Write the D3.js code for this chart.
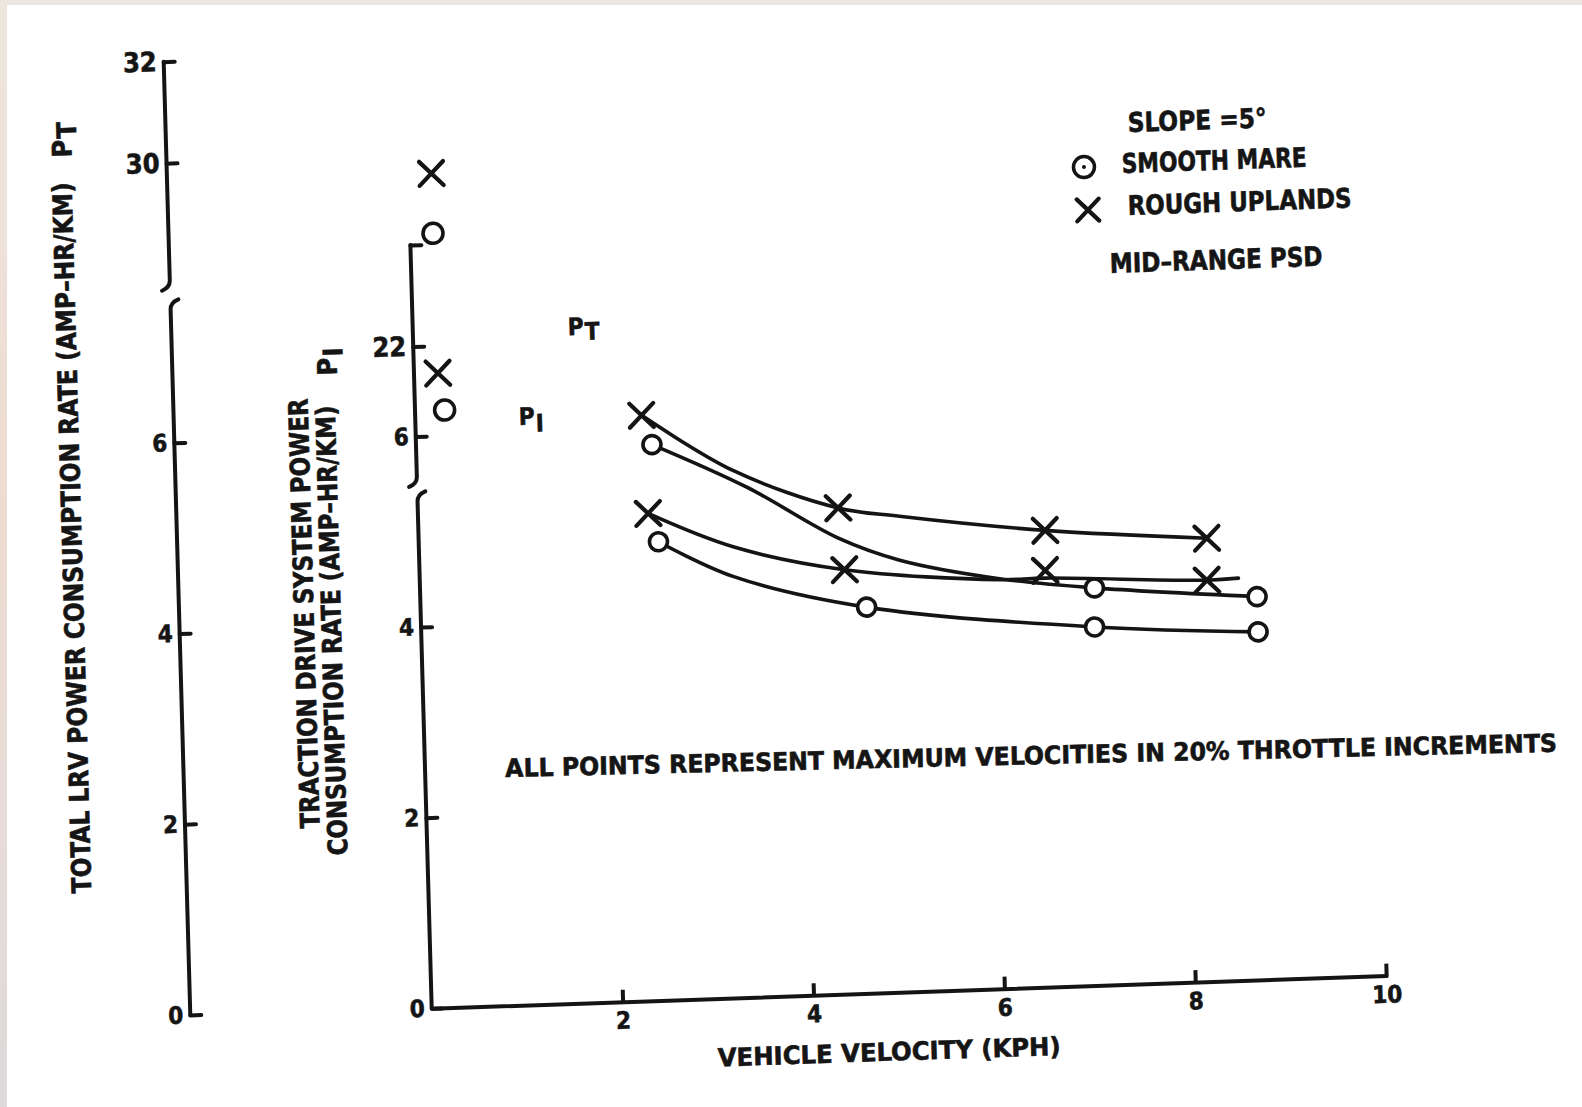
<!DOCTYPE html>
<html>
<head>
<meta charset="utf-8">
<title>LRV power consumption vs. vehicle velocity</title>
<script src="https://cdn.jsdelivr.net/npm/d3@7/dist/d3.min.js"></script>
<style>
  html, body { margin: 0; padding: 0; background: #ffffff; }
  svg { display: block; }
  .lbl { font-family: "Liberation Sans Narrow", "DejaVu Sans Condensed", "Roboto", sans-serif; font-weight: 700; fill: #151515; stroke: #151515; stroke-width: 0.6px; }
</style>
</head>
<body>
<svg id="chart" width="1582" height="1107"></svg>
<script>
// ---- tick values ----
const velocityTicks = [2, 4, 6, 8, 10];
const lowerRateTicks = [0, 2, 4, 6];
const totalUpperTicks = [30, 32];
const totalUpperLabels = ["30", "32"];
const tractionUpperTicks = [22, 24];
const tractionUpperLabels = ["22", ""];

// ---- measured points: velocity (KPH) vs consumption (AMP-HR/KM), slope 5 deg ----
// total LRV rate, P_T
const totalRoughV  = [2.37, 4.40, 6.56, 8.25];
const totalRoughP  = [6.12, 5.08, 4.77, 4.63];
const totalSmoothV = [2.47, 7.06, 8.76];
const totalSmoothP = [5.81, 4.15, 4.00];
// traction drive system rate, P_I
const tractionRoughV  = [2.41, 4.45, 6.55, 8.24];
const tractionRoughP  = [5.11, 4.45, 4.37, 4.21];
const tractionSmoothV = [2.51, 4.67, 7.05, 8.76];
const tractionSmoothP = [4.81, 4.05, 3.76, 3.65];

// ---- faired curves drawn through the points ----
const totalRoughCurveV = [2.37, 3.31, 4.40, 5.04, 6.56, 8.25];
const totalRoughCurveP = [6.12, 5.51, 5.08, 4.97, 4.77, 4.63];
const totalSmoothCurveV = [2.47, 3.45, 4.40, 5.03, 6.07, 7.06, 8.76];
const totalSmoothCurveP = [5.81, 5.33, 4.76, 4.51, 4.28, 4.15, 4.00];
const tractionRoughCurveV = [2.41, 3.29, 4.45, 6.07, 6.55, 8.24, 8.57];
const tractionRoughCurveP = [5.11, 4.73, 4.45, 4.29, 4.29, 4.21, 4.22];
const tractionSmoothCurveV = [2.51, 3.28, 4.67, 7.05, 8.76];
const tractionSmoothCurveP = [4.81, 4.42, 4.05, 3.76, 3.65];

// ---- points read on the upper (broken) part of each axis: rough, smooth ----
const totalStartV = [0.24, 0.24];
const totalStartP = [29.62, 28.44];
const tractionStartV = [0.25, 0.31];
const tractionStartP = [21.46, 20.73];

const ink = "#141414";
const svg = d3.select("#chart");

// paper edge of the sheet
const defs = svg.append("defs");
const edge = defs.append("linearGradient").attr("id", "paperEdge")
  .attr("x1", 0).attr("y1", 0).attr("x2", 0).attr("y2", 1);
[[0, "#ece6df"], [0.45, "#eedcd2"], [0.75, "#e6dcd8"], [1, "#dcdadb"]]
  .forEach(([o, c]) => edge.append("stop").attr("offset", o).attr("stop-color", c));
svg.append("rect").attr("width", 1582).attr("height", 1107).attr("fill", "#ffffff");
svg.append("rect").attr("width", 1582).attr("height", 5).attr("fill", "#ebe6df");
svg.append("rect").attr("width", 7).attr("height", 1107).attr("fill", "url(#paperEdge)");

// whole drawing sits slightly askew on the sheet
const plot = svg.append("g")
  .attr("transform", "matrix(0.99941,-0.0342,0.0279,0.9996,431.7,1008.3)");

// ---- scales ----
const x = d3.scaleLinear().domain([0, 10]).range([0, 955]);
const yTotal = d3.scaleLinear().domain([0, 6]).range([-1.6, -574]);
const yTotalUpper = d3.scaleLinear().domain([30, 32]).range([-853.7, -955.2]);
const yTraction = d3.scaleLinear().domain([0, 6]).range([0, -572]);
const yTractionUpper = d3.scaleLinear().domain([22, 24]).range([-662, -763.6]);

const totalAxisX = -241.5;
// where each axis is broken
const totalLowerTop = 7.47, totalUpperBottom = 27.55;
const tractionLowerTop = 5.39, tractionUpperBottom = 19.3;

function brokenAxis(ax, bottomPx, lowTopPx, upBottomPx, topPx) {
  const g = plot.append("g").attr("fill", "none").attr("stroke", ink)
    .attr("stroke-width", 4).attr("stroke-linecap", "round");
  g.append("path").attr("d",
    `M${ax},${bottomPx} V${lowTopPx + 7} Q${ax},${lowTopPx} ${ax + 8},${lowTopPx - 3}`);
  g.append("path").attr("d",
    `M${ax},${topPx} V${upBottomPx - 7} Q${ax},${upBottomPx} ${ax - 8},${upBottomPx + 3}`);
}

brokenAxis(totalAxisX, yTotal(0), yTotal(totalLowerTop), yTotalUpper(totalUpperBottom), yTotalUpper(32));
brokenAxis(0, yTraction(0), yTraction(tractionLowerTop), yTractionUpper(tractionUpperBottom), yTractionUpper(24));

const intFormat = d3.format("d");

function rateTicks(scale, ticks, labels, ax, size) {
  const axis = d3.axisLeft(scale).tickValues(ticks)
    .tickSizeInner(-11).tickSizeOuter(0).tickPadding(7)
    .tickFormat(labels ? (d, i) => labels[i] : intFormat);
  const g = plot.append("g").attr("transform", `translate(${ax},0)`).call(axis);
  g.select(".domain").remove();
  g.selectAll(".tick line").attr("stroke", ink).attr("stroke-width", 4).attr("stroke-linecap", "round");
  g.selectAll(".tick text").attr("class", "lbl").attr("font-size", size).attr("fill", ink);
}

rateTicks(yTotal, lowerRateTicks, null, totalAxisX, 24);
rateTicks(yTotalUpper, totalUpperTicks, totalUpperLabels, totalAxisX, 27);
rateTicks(yTraction, lowerRateTicks, null, 0, 24);
rateTicks(yTractionUpper, tractionUpperTicks, tractionUpperLabels, 0, 27);

// velocity axis
const xAxis = d3.axisBottom(x).tickValues(velocityTicks).tickFormat(intFormat)
  .tickSizeInner(-12).tickSizeOuter(0).tickPadding(10);
const gx = plot.append("g").call(xAxis);
gx.select(".domain").attr("stroke", ink).attr("stroke-width", 4).attr("stroke-linecap", "round");
gx.selectAll(".tick line").attr("stroke", ink).attr("stroke-width", 4);
gx.selectAll(".tick text").attr("class", "lbl").attr("font-size", 24).attr("fill", ink);

// ---- series ----
const crossPath = s => `M${-s},${-s}L${s},${s}M${-s},${s}L${s},${-s}`;

function drawMarks(g, pts, yScale, symbol, size) {
  if (symbol === "cross") {
    g.selectAll("path.mk").data(pts).join("path").attr("class", "mk")
      .attr("transform", d => `translate(${x(d[0])},${yScale(d[1])})`)
      .attr("d", crossPath(size)).attr("fill", "none")
      .attr("stroke", ink).attr("stroke-width", 4.2).attr("stroke-linecap", "round");
  } else {
    g.selectAll("circle.mk").data(pts).join("circle").attr("class", "mk")
      .attr("cx", d => x(d[0])).attr("cy", d => yScale(d[1])).attr("r", size)
      .attr("fill", "#ffffff").attr("stroke", ink).attr("stroke-width", 3.6);
  }
}

const series = [
  { v: totalSmoothV, p: totalSmoothP, cv: totalSmoothCurveV, cp: totalSmoothCurveP, y: yTotal, symbol: "circle" },
  { v: tractionSmoothV, p: tractionSmoothP, cv: tractionSmoothCurveV, cp: tractionSmoothCurveP, y: yTraction, symbol: "circle" },
  { v: totalRoughV, p: totalRoughP, cv: totalRoughCurveV, cp: totalRoughCurveP, y: yTotal, symbol: "cross" },
  { v: tractionRoughV, p: tractionRoughP, cv: tractionRoughCurveV, cp: tractionRoughCurveP, y: yTraction, symbol: "cross" }
];

series.forEach(s => {
  const g = plot.append("g");
  const line = d3.line().x(d => x(d[0])).y(d => s.y(d[1])).curve(d3.curveCatmullRom.alpha(0.5));
  g.append("path").datum(d3.zip(s.cv, s.cp)).attr("d", line)
    .attr("fill", "none").attr("stroke", ink).attr("stroke-width", 3.6).attr("stroke-linecap", "round");
  drawMarks(g, d3.zip(s.v, s.p), s.y, s.symbol, s.symbol === "cross" ? 12 : 9);
});

// points on the upper axis segments
const startG = plot.append("g");
const totalStart = d3.zip(totalStartV, totalStartP);
const tractionStart = d3.zip(tractionStartV, tractionStartP);
drawMarks(startG.append("g"), [totalStart[0]], yTotalUpper, "cross", 12);
drawMarks(startG.append("g"), [totalStart[1]], yTotalUpper, "circle", 10);
drawMarks(startG.append("g"), [tractionStart[0]], yTractionUpper, "cross", 12);
drawMarks(startG.append("g"), [tractionStart[1]], yTractionUpper, "circle", 10);

// ---- text ----
function text(parent, str, transform, size, len) {
  const t = parent.append("text").attr("class", "lbl").attr("transform", transform)
    .attr("font-size", size).text(str);
  if (len) t.attr("textLength", len).attr("lengthAdjust", "spacingAndGlyphs");
  return t;
}
function subscripted(parent, main, sub, transform, size, shift) {
  const t = parent.append("text").attr("class", "lbl").attr("transform", transform).attr("font-size", size);
  t.append("tspan").text(main);
  t.append("tspan").attr("dy", shift).attr("dx", 1).text(sub);
  return t;
}

// axis titles
text(plot, "TOTAL LRV POWER CONSUMPTION RATE (AMP–HR/KM)", "translate(-337,-127) rotate(-90)", 27, 711);
subscripted(plot, "P", "T", "translate(-336,-863) rotate(-90)", 27, 5);
text(plot, "TRACTION DRIVE SYSTEM POWER", "translate(-107,-184) rotate(-90)", 27, 430);
text(plot, "CONSUMPTION RATE (AMP–HR/KM)", "translate(-80,-156) rotate(-90)", 27, 450);
subscripted(plot, "P", "I", "translate(-77,-636) rotate(-90)", 27, 6);
text(plot, "VEHICLE VELOCITY (KPH)", "translate(284.6,68)", 25, 343);

// curve family labels
subscripted(plot, "P", "T", "translate(155,-668)", 24, 5);
subscripted(plot, "P", "I", "translate(103.6,-580)", 24, 7);

// note
text(plot, "ALL POINTS REPRESENT MAXIMUM VELOCITIES IN 20% THROTTLE INCREMENTS",
  "translate(80.1,-228.7) rotate(0.58)", 25, 1052);

// legend
const legend = plot.append("g");
text(legend, "SLOPE =5°", "translate(720.4,-851.9)", 27, 139);
text(legend, "SMOOTH MARE", "translate(713.3,-811.2)", 27, 185);
text(legend, "ROUGH UPLANDS", "translate(718.1,-769)", 27, 224);
text(legend, "MID–RANGE PSD", "translate(698.5,-711.7)", 27, 213);
legend.append("circle").attr("cx", 675.5).attr("cy", -818.5).attr("r", 10.5)
  .attr("fill", "#ffffff").attr("stroke", ink).attr("stroke-width", 3.5);
legend.append("circle").attr("cx", 675.5).attr("cy", -818.5).attr("r", 2).attr("fill", ink);
legend.append("path").attr("transform", "translate(678.3,-775.4)").attr("d", crossPath(11))
  .attr("fill", "none").attr("stroke", ink).attr("stroke-width", 4.2).attr("stroke-linecap", "round");
</script>
</body>
</html>
